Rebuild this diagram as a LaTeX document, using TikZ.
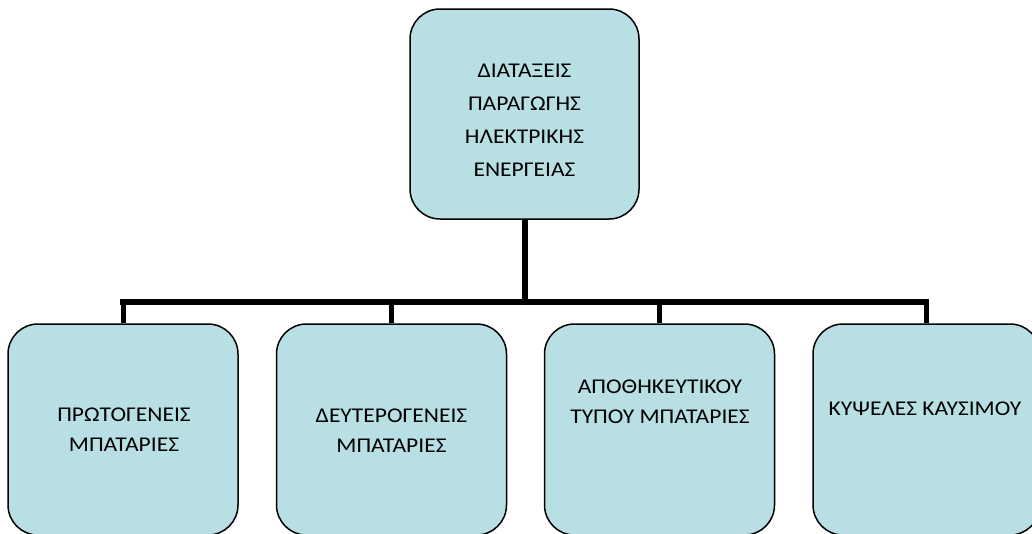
\documentclass[tikz,border=0pt]{standalone}
\usepackage{fontspec}
\setmainfont{Carlito}[FakeStretch=1.12]
\definecolor{boxfill}{RGB}{184,223,227}
\begin{document}
\begin{tikzpicture}[x=1pt,y=-1pt,
  box/.style={draw=black,line width=1.5pt,fill=boxfill,rounded corners=30pt,
    minimum width=230pt,minimum height=211pt,inner sep=0pt},
  lbl/.style={align=center,font=\fontsize{21pt}{30pt}\selectfont,inner sep=0pt},
  toplbl/.style={align=center,font=\fontsize{21pt}{33pt}\selectfont,inner sep=0pt},
  trunk/.style={line width=6pt},
  busline/.style={line width=5.5pt,line cap=rect},
  drop/.style={line width=5pt}]
\useasboundingbox (0,0) rectangle (1032,533);
\clip (0,0) rectangle (1032,533);
\node[box,minimum width=229pt,minimum height=210pt] (top) at (524.5,114) {};
\node[box] (b1) at (123,429.5) {};
\node[box] (b2) at (391.5,429.5) {};
\node[box] (b3) at (659.5,429.5) {};
\node[box,minimum width=227pt] (b4) at (926.5,429.5) {};
\node[toplbl] (t0) at (524.5,120.5) {ΔΙΑΤΑΞΕΙΣ\\ΠΑΡΑΓΩΓΗΣ\\ΗΛΕΚΤΡΙΚΗΣ\\ΕΝΕΡΓΕΙΑΣ};
\node[lbl] (t1) at (124,430) {ΠΡΩΤΟΓΕΝΕΙΣ\\ΜΠΑΤΑΡΙΕΣ};
\node[lbl] (t2) at (391.5,431) {ΔΕΥΤΕΡΟΓΕΝΕΙΣ\\ΜΠΑΤΑΡΙΕΣ};
\node[lbl] (t3) at (660,402) {ΑΠΟΘΗΚΕΥΤΙΚΟΥ\\ΤΥΠΟΥ ΜΠΑΤΑΡΙΕΣ};
\node[lbl] (t4) at (925,409) {ΚΥΨΕΛΕΣ ΚΑΥΣΙΜΟΥ};
\coordinate (bus) at (524.5,302);
\draw[trunk] (top.south) -- (top.south |- bus);
\draw[busline] (b1.north |- bus) -- (b4.north |- bus);
\foreach \b in {b1,b2,b3,b4} \draw[drop] (\b.north) -- (\b.north |- bus);
\end{tikzpicture}
\end{document}
